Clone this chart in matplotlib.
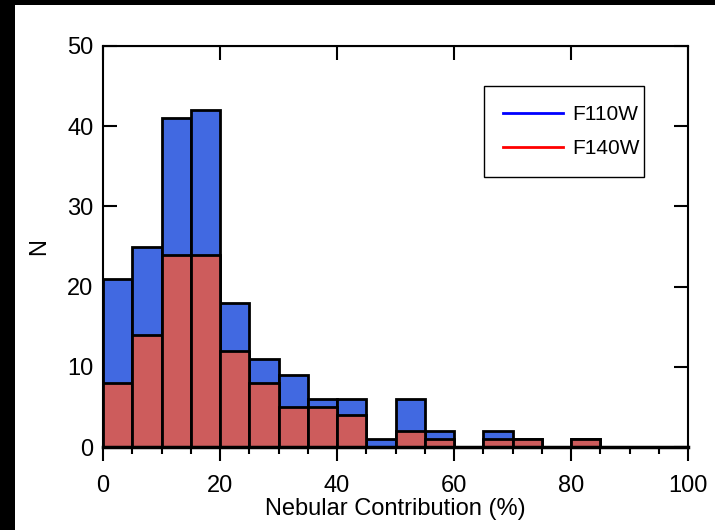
import numpy as np
import matplotlib
matplotlib.use("Agg")
import matplotlib.pyplot as plt
from matplotlib.patches import Rectangle
from matplotlib.lines import Line2D
from matplotlib.ticker import MultipleLocator

plt.rcParams["font.family"] = "Liberation Sans"

# histogram bins (percent) and counts per filter
bin_edges = np.arange(0, 105, 5)
n_f110w = [21, 25, 41, 42, 18, 11, 9, 6, 6, 1, 6, 2, 0, 2, 1, 0, 1, 0, 0, 0]
n_f140w = [8, 14, 24, 24, 12, 8, 5, 5, 4, 0, 2, 1, 0, 1, 1, 0, 1, 0, 0, 0]
labels = ["F110W", "F140W"]

fig = plt.figure(figsize=(7.15, 5.30), dpi=100, facecolor="white")
ax = fig.add_axes([103 / 715, 83 / 530, 585 / 715, 401 / 530])

ax.bar(bin_edges[:-1], n_f110w, width=5, align="edge", color="#4169E1",
       edgecolor="black", linewidth=2, zorder=2)
ax.bar(bin_edges[:-1], n_f140w, width=5, align="edge", color="#CD5C5C",
       edgecolor="black", linewidth=2, zorder=3)

ax.set_xlim(0, 100)
ax.set_ylim(0, 50)

for side in ["left", "right", "top"]:
    ax.spines[side].set_linewidth(1.5)
ax.spines["bottom"].set_linewidth(2.5)
ax.spines["bottom"].set_zorder(4)

ax.xaxis.set_major_locator(MultipleLocator(20))
ax.xaxis.set_minor_locator(MultipleLocator(5))
ax.yaxis.set_major_locator(MultipleLocator(10))
ax.tick_params(axis="x", which="major", direction="out", length=10, width=1.5,
               labelsize=17, pad=10)
ax.tick_params(axis="x", which="minor", direction="out", length=5, width=1.5)
ax.tick_params(axis="y", which="major", direction="in", length=10, width=1.5,
               labelsize=17, pad=7, right=True)
ax.tick_params(axis="y", which="minor", left=False, right=False)

# top axis: only major ticks, pointing inward
sec = ax.secondary_xaxis("top")
sec.xaxis.set_major_locator(MultipleLocator(20))
sec.tick_params(direction="in", length=10, width=1.5, labeltop=False)

ax.set_xlabel("Nebular Contribution (%)", fontsize=17, labelpad=1)
ax.set_ylabel("N", fontsize=17, labelpad=12)

handles = [Line2D([], [], color="#0000FF", lw=2),
           Line2D([], [], color="#FF0000", lw=2)]
leg = ax.legend(handles, labels, loc="upper left",
                bbox_to_anchor=(0.651, 0.900, 0.274, 0), mode="expand",
                borderaxespad=0, fontsize=15, borderpad=0.9, labelspacing=0.75,
                handlelength=2.9, handletextpad=0.45, fancybox=False,
                edgecolor="black", framealpha=1)
leg.get_frame().set_linewidth(1.0)

# black strips along the top and left edges, white right margin
fig.add_artist(Rectangle((690 / 715, 0), 25 / 715, 1, transform=fig.transFigure,
                         facecolor="white", linewidth=0, zorder=-1))
fig.add_artist(Rectangle((0, 1 - 5 / 530), 1, 5 / 530, transform=fig.transFigure,
                         facecolor="black", linewidth=0, zorder=10))
fig.add_artist(Rectangle((0, 0), 15 / 715, 1, transform=fig.transFigure,
                         facecolor="black", linewidth=0, zorder=10))

fig.savefig("out.png", dpi=100, facecolor="white")
